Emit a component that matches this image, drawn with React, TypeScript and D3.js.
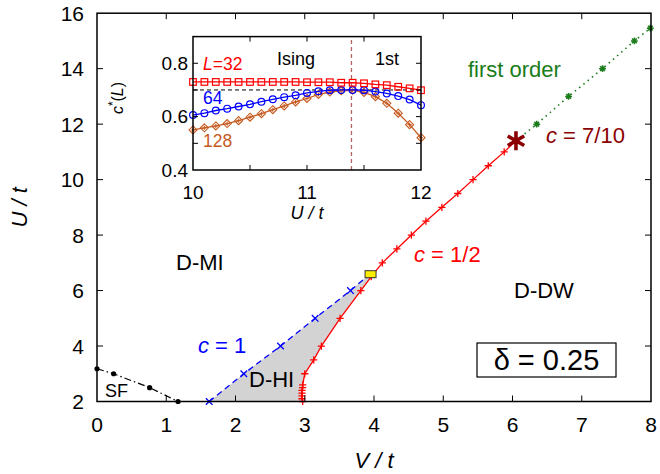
import React from 'react'
import * as d3 from 'd3'

// main axes
const xTicks = [0, 1, 2, 3, 4, 5, 6, 7, 8]
const yTicks = [2, 4, 6, 8, 10, 12, 14, 16]

// SF boundary (black dash-dot)
const sfV = [0, 0.24, 0.76, 1.17]
const sfU = [3.18, 3.0, 2.5, 2.0]

// c = 1 line (blue dashed)
const c1V = [1.62, 2.12, 2.65, 3.15, 3.66, 3.93]
const c1U = [2.0, 3.0, 4.0, 5.0, 6.0, 6.57]

// c = 1/2 line (red)
const halfV = [2.97, 2.96, 2.96, 2.96, 2.96, 2.97, 2.97, 3.0, 3.13, 3.24, 3.51, 3.81, 3.96, 4.12, 4.33, 4.54, 4.75, 4.98, 5.21, 5.43, 5.65, 5.88, 6.05]
const halfU = [2.0, 2.1, 2.2, 2.3, 2.4, 2.5, 2.6, 3.0, 3.5, 4.0, 5.0, 6.0, 6.5, 7.0, 7.5, 8.0, 8.5, 9.0, 9.5, 10.0, 10.5, 11.0, 11.4]

// first order line (green dotted)
const firstV = [6.05, 6.35, 6.81, 7.3, 7.76, 7.99]
const firstU = [11.4, 12.0, 13.0, 14.0, 15.0, 15.46]

// special points
const tricritical = [3.95, 6.59]
const c710 = [6.05, 11.4]

// inset
const insetXTicks = [10, 10.5, 11, 11.5, 12]
const insetXLabels = [10, 11, 12]
const insetYTicks = [0.4, 0.5, 0.6, 0.7, 0.8, 0.9]
const insetYLabels = ['0.4', '0.6', '0.8']
const insetU = [10.0, 10.1, 10.2, 10.3, 10.4, 10.5, 10.6, 10.7, 10.8, 10.9, 11.0, 11.1, 11.2, 11.3, 11.4, 11.5, 11.6, 11.7, 11.8, 11.9, 12.0]
const cL32 = [0.73, 0.73, 0.73, 0.73, 0.73, 0.73, 0.73, 0.73, 0.73, 0.73, 0.729, 0.729, 0.729, 0.727, 0.727, 0.725, 0.721, 0.718, 0.712, 0.706, 0.699]
const cL64 = [0.606, 0.613, 0.623, 0.63, 0.638, 0.646, 0.656, 0.665, 0.673, 0.68, 0.689, 0.695, 0.699, 0.7, 0.7, 0.699, 0.694, 0.687, 0.677, 0.664, 0.643]
const cL128 = [0.55, 0.558, 0.565, 0.574, 0.585, 0.598, 0.611, 0.626, 0.64, 0.655, 0.668, 0.683, 0.692, 0.697, 0.699, 0.691, 0.675, 0.65, 0.613, 0.57, 0.521]
const cRef = 0.7
const uTransition = 11.39

const FONT = 'Liberation Sans, Arial, Helvetica, sans-serif'
const RED = '#ff0000'
const BLUE = '#0000ff'
const GREEN = '#1a7d1a'
const DARKRED = '#8b0000'
const BROWN = '#c65a1e'

const zip = (a: number[], b: number[]) => a.map((v, i) => [v, b[i]] as [number, number])

const plusPath = (r: number) => `M${-r},0H${r}M0,${-r}V${r}`
const crossPath = (r: number) => `M${-r},${-r}L${r},${r}M${-r},${r}L${r},${-r}`
const starPath = (r: number) => {
  let p = ''
  for (let k = 0; k < 3; k++) {
    const a = Math.PI / 2 + (k * Math.PI) / 3
    p += `M${r * Math.cos(a)},${r * Math.sin(a)}L${-r * Math.cos(a)},${-r * Math.sin(a)}`
  }
  return p
}
const asteriskPath = (r: number) => plusPath(r) + crossPath(r * 0.7)

export default function App() {
  const x = d3.scaleLinear().domain([0, 8]).range([97, 651])
  const y = d3.scaleLinear().domain([2, 16]).range([401.5, 13.2])
  const ix = d3.scaleLinear().domain([10, 12]).range([193, 421])
  const iy = d3.scaleLinear().domain([0.4, 0.9]).range([170, 36.6])

  const line = d3.line<[number, number]>().x(d => x(d[0])).y(d => y(d[1]))
  const iline = d3.line<[number, number]>().x(d => ix(d[0])).y(d => iy(d[1]))

  const sf = zip(sfV, sfU)
  const c1 = zip(c1V, c1U)
  const half = zip(halfV, halfU)
  const first = zip(firstV, firstU)
  const topHalf = half.filter(d => d[1] <= 6.5).reverse()
  const grayPoly = line([...c1, ...topHalf]) + 'Z'

  const s32 = zip(insetU, cL32)
  const s64 = zip(insetU, cL64)
  const s128 = zip(insetU, cL128)

  const [x0, x1] = x.range()
  const [y0, y1] = y.range()
  const [ix0, ix1] = ix.range()
  const [iy0, iy1] = iy.range()
  const tk = 6
  const itk = 5

  return (
    <svg width={660} height={474} style={{ position: 'absolute', left: 0, top: 0, background: '#fff' }} fontFamily={FONT}>
      {/* gray D-HI region */}
      <path d={grayPoly} fill="#d3d3d3" stroke="none" />

      {/* SF line */}
      <path d={line(sf) || ''} fill="none" stroke="#000" strokeWidth={1.2} strokeDasharray="7,3,1.5,3" />
      {sf.map((d, i) => <circle key={'sf' + i} cx={x(d[0])} cy={y(d[1])} r={2.6} fill="#000" />)}

      {/* c = 1 */}
      <path d={line(c1) || ''} fill="none" stroke={BLUE} strokeWidth={1.3} strokeDasharray="6,4" />
      {c1.map((d, i) => <path key={'c1' + i} d={crossPath(3.3)} transform={`translate(${x(d[0])},${y(d[1])})`} stroke={BLUE} strokeWidth={1.3} fill="none" />)}

      {/* c = 1/2 */}
      <path d={line(half) || ''} fill="none" stroke={RED} strokeWidth={1.3} />
      {half.map((d, i) => <path key={'h' + i} d={plusPath(3.6)} transform={`translate(${x(d[0])},${y(d[1])})`} stroke={RED} strokeWidth={1.3} fill="none" />)}

      {/* first order */}
      <path d={line(first) || ''} fill="none" stroke={GREEN} strokeWidth={1.6} strokeDasharray="1.5,4" />
      {first.slice(1).map((d, i) => <path key={'f' + i} d={asteriskPath(3.4)} transform={`translate(${x(d[0])},${y(d[1])})`} stroke={GREEN} strokeWidth={1.5} fill="none" />)}

      {/* special points */}
      <rect x={x(tricritical[0]) - 5.5} y={y(tricritical[1]) - 3.5} width={11} height={7} fill="#ffee00" stroke="#333" strokeWidth={1} />
      <path d={starPath(9.5)} transform={`translate(${x(c710[0])},${y(c710[1])})`} stroke={DARKRED} strokeWidth={3.6} fill="none" />

      {/* main frame */}
      <rect x={x0} y={y1} width={x1 - x0} height={y0 - y1} fill="none" stroke="#000" strokeWidth={1.5} />
      {xTicks.slice(1, -1).map(t => (
        <g key={'xt' + t} stroke="#000" strokeWidth={1}>
          <line x1={x(t)} x2={x(t)} y1={y0} y2={y0 - tk} />
          <line x1={x(t)} x2={x(t)} y1={y1} y2={y1 + tk} />
        </g>
      ))}
      {yTicks.slice(1, -1).map(t => (
        <g key={'yt' + t} stroke="#000" strokeWidth={1}>
          <line x1={x0} x2={x0 + tk} y1={y(t)} y2={y(t)} />
          <line x1={x1} x2={x1 - tk} y1={y(t)} y2={y(t)} />
        </g>
      ))}
      {xTicks.map(t => (
        <text key={'xl' + t} x={x(t)} y={432} fontSize={21} textAnchor="middle">{t}</text>
      ))}
      {yTicks.map(t => (
        <text key={'yl' + t} x={84} y={y(t) + 7.5} fontSize={21} textAnchor="end">{t}</text>
      ))}
      <text x={(x0 + x1) / 2} y={468} fontSize={22} textAnchor="middle" fontStyle="italic">V / t</text>
      <text transform={`translate(27,${(y0 + y1) / 2}) rotate(-90)`} fontSize={22} textAnchor="middle" fontStyle="italic">U / t</text>

      {/* region labels */}
      <text x={176} y={270} fontSize={22}>D-MI</text>
      <text x={249} y={387} fontSize={22}>D-HI</text>
      <text x={105} y={397} fontSize={18}>SF</text>
      <text x={514} y={298} fontSize={22}>D-DW</text>
      <text x={468} y={77} fontSize={22} fill={GREEN}>first order</text>
      <text x={546} y={143} fontSize={22} fill={DARKRED}><tspan fontStyle="italic">c</tspan> = 7/10</text>
      <text x={414} y={262} fontSize={22} fill={RED}><tspan fontStyle="italic">c</tspan> = 1/2</text>
      <text x={198} y={353} fontSize={22} fill={BLUE}><tspan fontStyle="italic">c</tspan> = 1</text>

      {/* delta box */}
      <rect x={477} y={343} width={139} height={34} fill="#fff" stroke="#000" strokeWidth={1.2} />
      <text x={546.5} y={370} fontSize={29} textAnchor="middle">δ = 0.25</text>

      {/* inset */}
      <rect x={ix0} y={iy1} width={ix1 - ix0} height={iy0 - iy1} fill="#fff" stroke="none" />
      <line x1={ix0} x2={ix1} y1={iy(cRef)} y2={iy(cRef)} stroke="#000" strokeWidth={1} strokeDasharray="4,3" />
      <line x1={ix(uTransition)} x2={ix(uTransition)} y1={iy0} y2={iy1} stroke="#b86262" strokeWidth={1.3} strokeDasharray="4,3" />

      <path d={iline(s128) || ''} fill="none" stroke={BROWN} strokeWidth={1.3} />
      {s128.map((d, i) => (
        <g key={'d' + i} transform={`translate(${ix(d[0])},${iy(d[1])})`} stroke={BROWN} strokeWidth={1.1} fill="none">
          <path d="M0,-4L4,0L0,4L-4,0Z" />
          <path d={plusPath(2)} />
        </g>
      ))}
      <path d={iline(s64) || ''} fill="none" stroke={BLUE} strokeWidth={1.3} />
      {s64.map((d, i) => <circle key={'o' + i} cx={ix(d[0])} cy={iy(d[1])} r={3.4} fill="none" stroke={BLUE} strokeWidth={1.2} />)}
      <path d={iline(s32) || ''} fill="none" stroke={RED} strokeWidth={1.3} />
      {s32.map((d, i) => <rect key={'s' + i} x={ix(d[0]) - 3.3} y={iy(d[1]) - 3.3} width={6.6} height={6.6} fill="none" stroke={RED} strokeWidth={1.2} />)}

      <rect x={ix0} y={iy1} width={ix1 - ix0} height={iy0 - iy1} fill="none" stroke="#000" strokeWidth={1.5} />
      {insetXTicks.slice(1, -1).map(t => (
        <g key={'ixt' + t} stroke="#000" strokeWidth={1}>
          <line x1={ix(t)} x2={ix(t)} y1={iy0} y2={iy0 - itk} />
          <line x1={ix(t)} x2={ix(t)} y1={iy1} y2={iy1 + itk} />
        </g>
      ))}
      {insetYTicks.slice(1, -1).map(t => (
        <g key={'iyt' + t} stroke="#000" strokeWidth={1}>
          <line x1={ix0} x2={ix0 + itk} y1={iy(t)} y2={iy(t)} />
          <line x1={ix1} x2={ix1 - itk} y1={iy(t)} y2={iy(t)} />
        </g>
      ))}
      {insetXLabels.map(t => (
        <text key={'ixl' + t} x={ix(t)} y={199} fontSize={19} textAnchor="middle">{t}</text>
      ))}
      {insetYLabels.map(t => (
        <text key={'iyl' + t} x={188} y={iy(+t) + 6.5} fontSize={19} textAnchor="end">{t}</text>
      ))}
      <text x={ix(11)} y={219} fontSize={18} textAnchor="middle" fontStyle="italic">U / t</text>
      <text transform={`translate(123,98) rotate(-90)`} fontSize={16} textAnchor="middle">
        <tspan fontStyle="italic">c</tspan><tspan dy={-6} fontSize={12}>*</tspan><tspan dy={6}>(</tspan><tspan fontStyle="italic">L</tspan>)
      </text>
      <text x={203} y={70} fontSize={17.5} fill={RED}><tspan fontStyle="italic">L</tspan>=32</text>
      <text x={203} y={104} fontSize={17.5} fill={BLUE}>64</text>
      <text x={203} y={147} fontSize={17.5} fill={BROWN}>128</text>
      <text x={296} y={65} fontSize={18} textAnchor="middle">Ising</text>
      <text x={375} y={65} fontSize={18}>1st</text>
    </svg>
  )
}
